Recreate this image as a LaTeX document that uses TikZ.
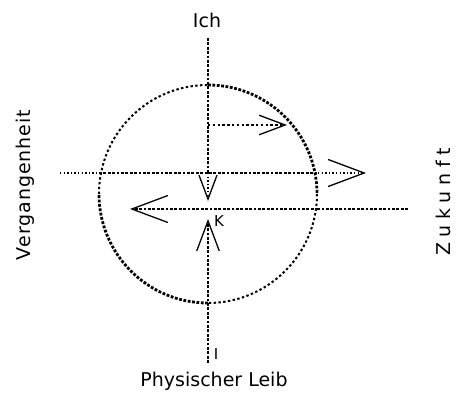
\documentclass[tikz,border=0pt]{standalone}
\usepackage{fontspec}
\setmainfont{DejaVu Sans}
\usetikzlibrary{arrows.meta}
\begin{document}
\begin{tikzpicture}[x=1pt,y=-1pt,
		hatch/.style={line width=2.8pt, dash pattern=on 2.8pt off 1.6pt},
		lighthatch/.style={line width=2pt, dash pattern=on 2.4pt off 2.4pt},
		dots/.style={line width=1.6pt, dash pattern=on 1.4pt off 2.2pt},
		tip/.style={-{Straight Barb[length=#1, width=0.75*#1, line width=1.3pt]}},
		label/.style={font=\fontsize{19}{22}\selectfont, inner sep=0pt}]
		\useasboundingbox (0,0) rectangle (460,395);
		%centre and axes
		\coordinate (c) at (208,194);
		\coordinate (top) at (208,38);
		\coordinate (bot) at (208,363);
		\coordinate (past) at (60,173);
		\coordinate (fut) at (408,209);
		%draw circle
		\draw [lighthatch] (c) ++(180:109) arc (180:270:109);
		\draw [hatch] (c) ++(270:109) arc (270:360:109);
		\draw [lighthatch] (c) ++(0:109) arc (0:90:109);
		\draw [hatch] (c) ++(90:109) arc (90:180:109);
		%draw vertical line
		\draw [hatch] (top) -- (208,173);
		\draw [dots, tip=24pt] (208,173) -- (208,201);
		\draw [hatch, tip=30pt] (bot) -- (208,219);
		%draw horizontal lines
		\draw [dots] (past) -- (99,173);
		\draw [hatch] (99,173) -- (318,173);
		\draw [dots, tip=36pt] (318,173) -- (366,173);
		\draw [hatch] (fut) -- (318,209);
		\draw [hatch, tip=36pt] (318,209) -- (130,209);
		\draw [lighthatch, tip=26pt] (208,125) -- (287,125);
		%draw labels
		\node [label] (ich) at (207,20) {Ich};
		\node [label] (leib) at (214,381) {Physischer Leib};
		\node [label, rotate=90] (verg) at (25,185) {\addfontfeature{LetterSpace=5}Vergangenheit};
		\node [label, rotate=90] (zuk) at (443,202) {\addfontfeature{LetterSpace=30}Zukunft};
		\node [font=\fontsize{15}{17}\selectfont, inner sep=0pt] (k) at (219,221) {K};
		\node [font=\fontsize{15}{17}\selectfont, inner sep=0pt] (i) at (216,354) {I};
\end{tikzpicture}
\end{document}
